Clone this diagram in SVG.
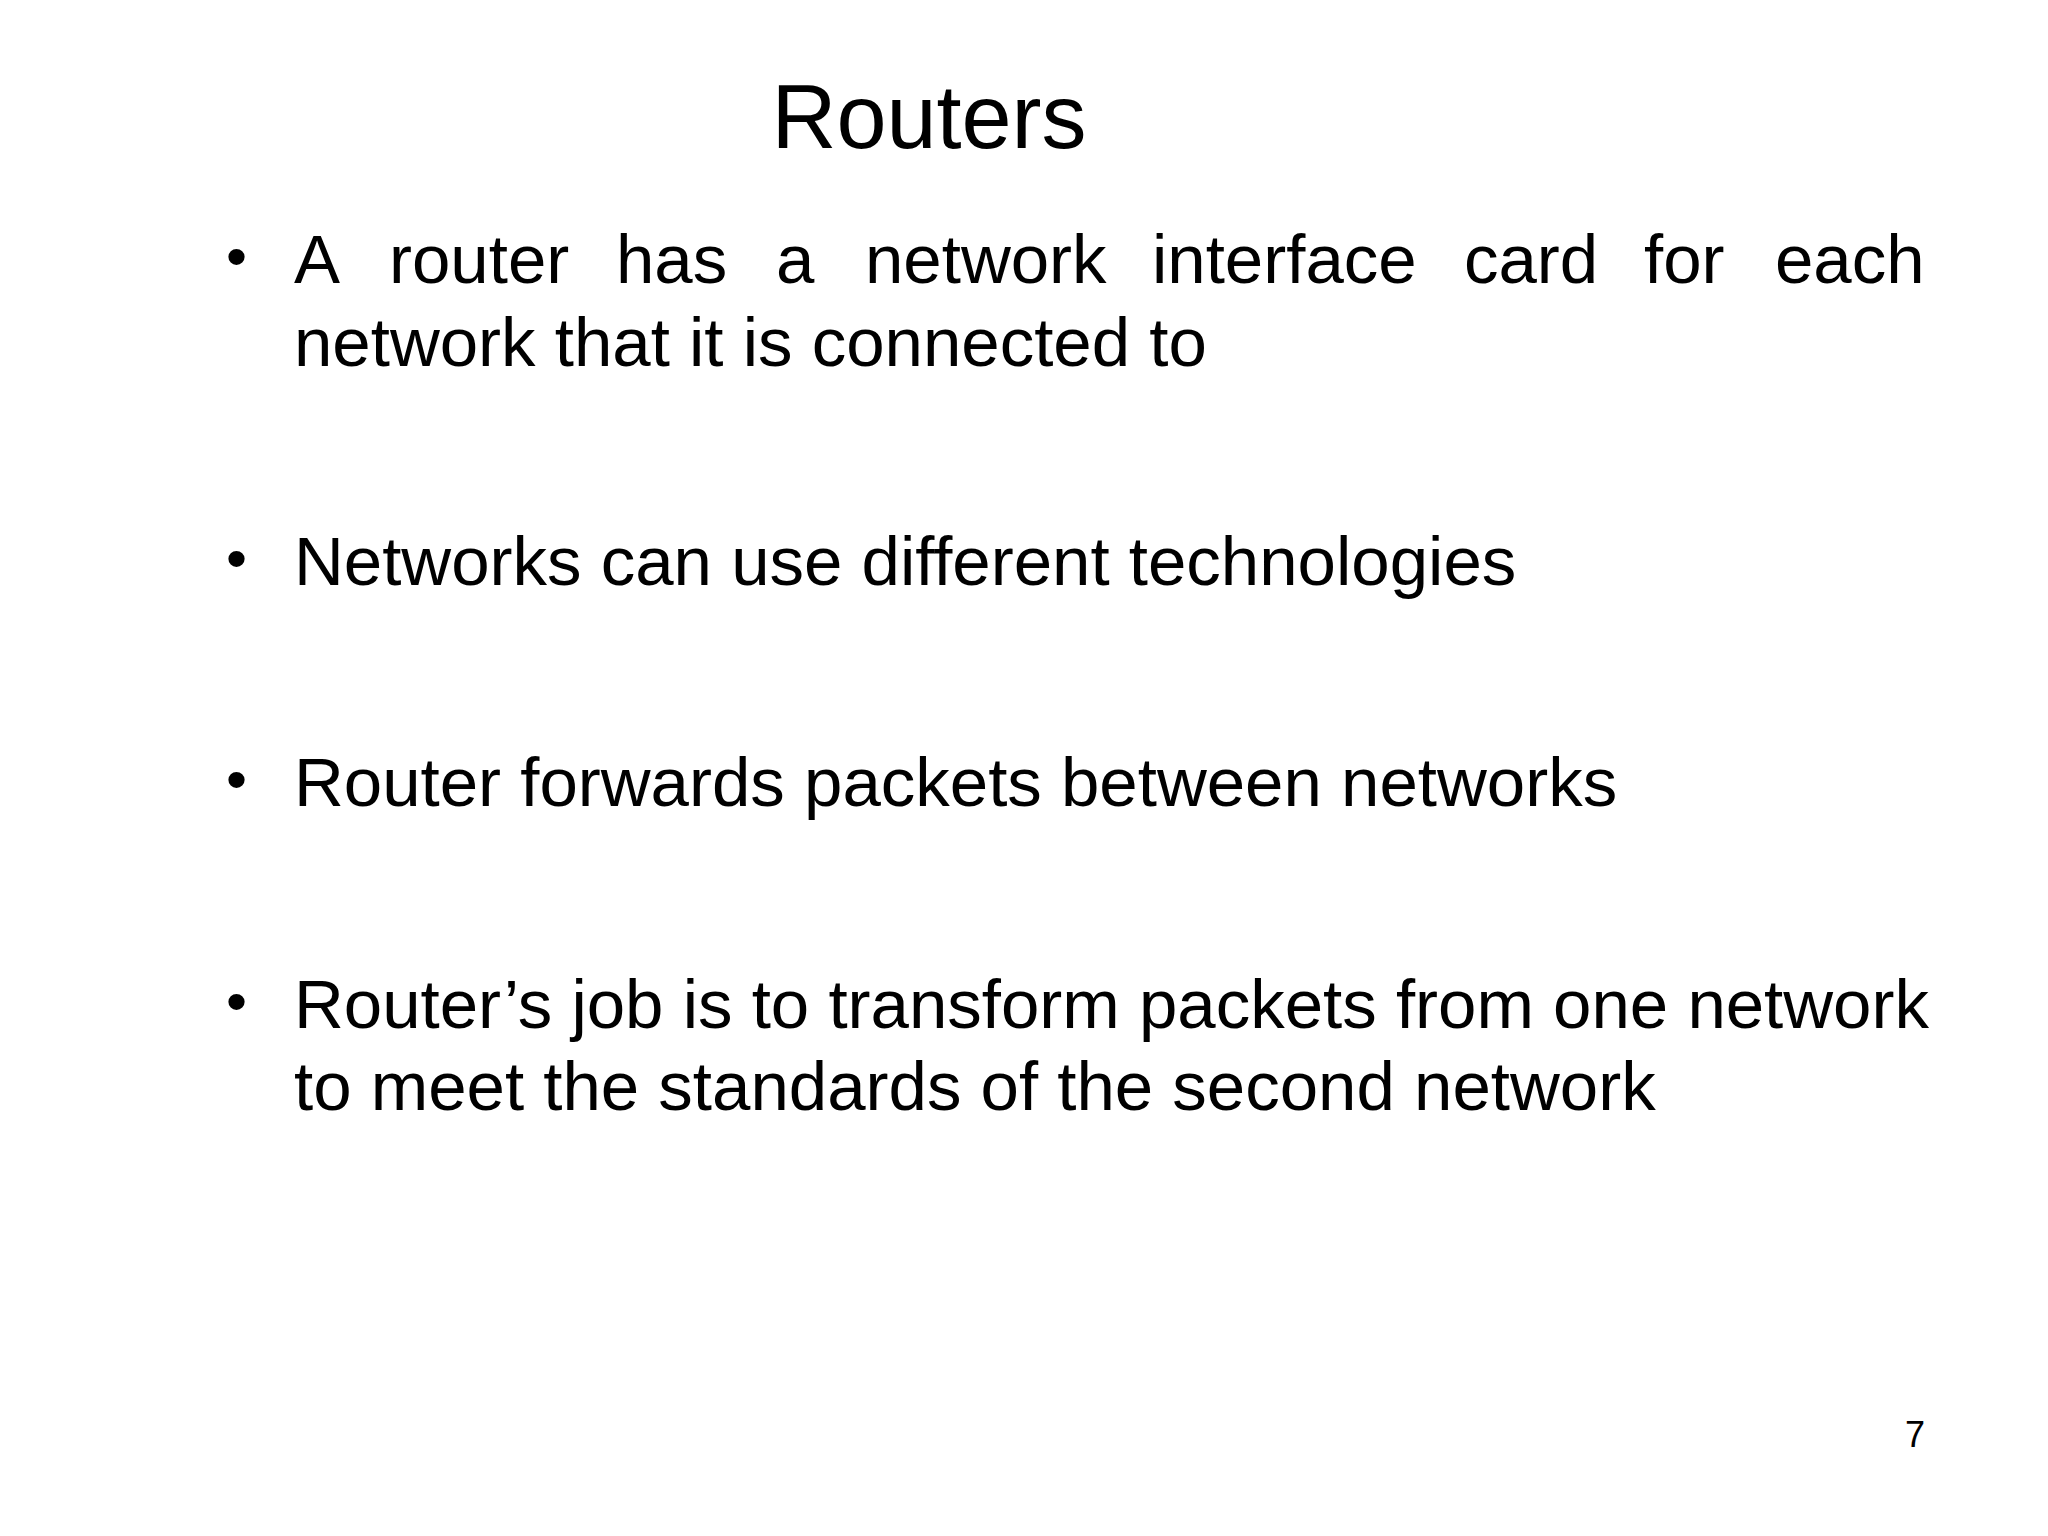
<svg xmlns="http://www.w3.org/2000/svg" width="2048" height="1536" viewBox="0 0 2048 1536">
<style>
text{font-family:"Liberation Sans",Arial,sans-serif;fill:#000}
.b{font-size:69px}
.d{font-size:60px}
</style>
<rect width="2048" height="1536" fill="#fff"/>
<text x="929" y="148" font-size="90" text-anchor="middle">Routers</text>
<g class="b">
<text class="d" x="226" y="277">•</text>
<text y="283"><tspan x="294">A</tspan><tspan x="389">router</tspan><tspan x="616">has</tspan><tspan x="776">a</tspan><tspan x="865">network</tspan><tspan x="1152">interface</tspan><tspan x="1464">card</tspan><tspan x="1644">for</tspan><tspan x="1775">each</tspan></text>
<text x="294" y="366">network that it is connected to</text>
<text class="d" x="226" y="579">•</text>
<text x="294" y="585">Networks can use different technologies</text>
<text class="d" x="226" y="800">•</text>
<text x="294" y="806">Router forwards packets between networks</text>
<text class="d" x="226" y="1022">•</text>
<text x="294" y="1028">Router’s job is to transform packets from one network</text>
<text x="294" y="1110">to meet the standards of the second network</text>
</g>
<text x="1925" y="1447" font-size="36" text-anchor="end">7</text>
</svg>
